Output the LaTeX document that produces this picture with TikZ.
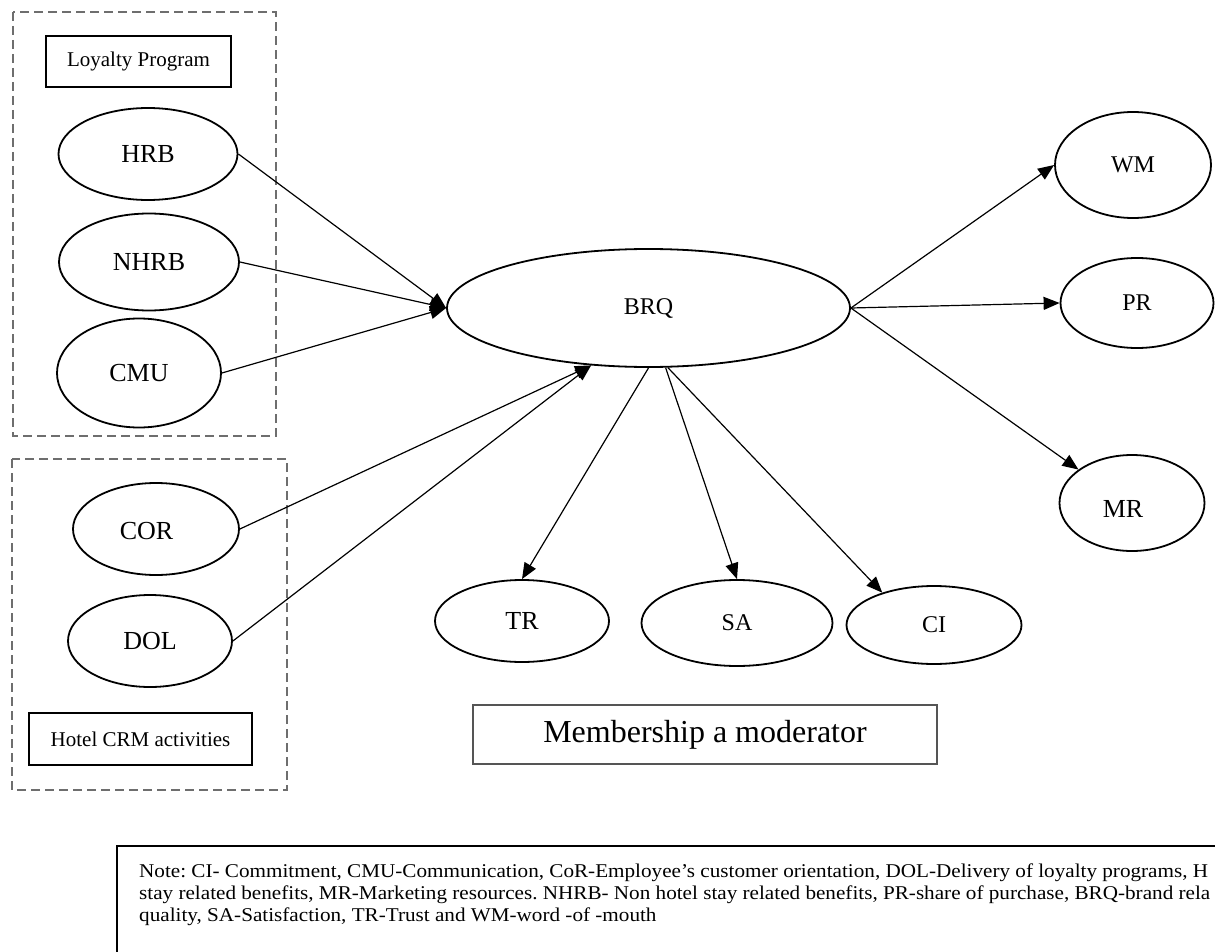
\documentclass[tikz,border=0pt]{standalone}
\usepackage{fontspec}
\setmainfont{Liberation Serif}
\newfontfamily\notefont[FakeStretch=1.085]{Liberation Serif}
\usetikzlibrary{arrows.meta,shapes.geometric}

\definecolor{grpgray}{HTML}{6E6E6E}
\definecolor{membgray}{HTML}{555555}

\begin{document}
\begin{tikzpicture}[x=1pt,y=-1pt,
  oval/.style={ellipse, draw=black, line width=1.8pt, inner sep=0pt},
  big/.style={font=\fontsize{26}{30}\selectfont},
  mid/.style={font=\fontsize{24}{28}\selectfont},
  lbl/.style={inner sep=0pt},
  tag/.style={draw=black, line width=1.3pt, inner sep=0pt, font=\fontsize{21}{25}\selectfont},
  link/.style={line width=1.2pt, -{Triangle[length=16pt,width=13pt]}},
  grp/.style={draw=grpgray, line width=1.8pt, dash pattern=on 9pt off 5pt},
  notetext/.style={anchor=base west, inner sep=0pt, font=\notefont\fontsize{19.5}{22}\selectfont\frenchspacing}]

\useasboundingbox (0,0) rectangle (1215,952);

% group frames
\draw[grp] (13,12) rectangle (276,436);
\draw[grp] (12,459) rectangle (287,790);

% group titles
\node[tag, minimum width=185pt, minimum height=51pt] (lp) at (138.5,61.5) {Loyalty Program};
\node[tag, minimum width=223pt, minimum height=52pt] (crm) at (140.5,739) {Hotel CRM activities};

% antecedents
\node[oval, big, minimum width=179pt, minimum height=92pt]  (hrb)  at (148,154) {HRB};
\node[oval, big, minimum width=180pt, minimum height=97pt]  (nhrb) at (149,262) {NHRB};
\node[oval, big, minimum width=164pt, minimum height=109pt] (cmu)  at (139,373) {CMU};
\node[oval, minimum width=166pt, minimum height=92pt] (cor) at (156,529) {};
\node[lbl, big] (cortext) at (146.5,531) {COR};
\node[oval, big, minimum width=164pt, minimum height=92pt]  (dol)  at (150,641) {DOL};

% central construct
\node[oval, mid, minimum width=403pt, minimum height=118pt] (brq) at (648.5,308) {BRQ};

% relationship quality dimensions
\node[oval, big, minimum width=174pt, minimum height=82pt] (tr) at (522,621) {TR};
\node[oval, mid, minimum width=191pt, minimum height=86pt] (sa) at (737,623) {SA};
\node[oval, mid, minimum width=175pt, minimum height=78pt] (ci) at (934,625) {CI};

% outcomes
\node[oval, mid, minimum width=156pt, minimum height=106pt] (wm) at (1133,165) {WM};
\node[oval, mid, minimum width=153pt, minimum height=90pt] (pr) at (1137,303) {PR};
\node[oval, minimum width=145pt, minimum height=96pt] (mr) at (1132,503) {};
\node[lbl, big] (mrtext) at (1123,508.5) {MR};

% moderator
\node[draw=membgray, line width=2pt, inner sep=0pt, minimum width=464pt, minimum height=59pt,
      font=\fontsize{32}{36}\selectfont] (memb) at (705,734.5) {Membership a moderator};

% paths
\draw[link] (hrb.east) -- (brq.west);
\draw[link] (nhrb.east) -- (brq.west);
\draw[link] (cmu.east) -- (brq.west);
\draw[link] (cor.east) -- (brq.225);
\draw[link] (dol.east) -- (brq.225);
\draw[link] (brq.south) -- (tr.north);
\draw[link] (brq.286) -- (sa.north);
\draw[link] (brq.288) -- (ci.148);
\draw[link] (brq.east) -- (wm.west);
\draw[link] (brq.east) -- (pr.west);
\draw[link] (brq.east) -- (mr.148);

% abbreviations
\begin{scope}
  \clip (0,0) rectangle (1215,952);
  \draw[line width=1.5pt] (117,846) rectangle (1240,990);
  \node[notetext] (note1) at (139,877) {Note: CI- Commitment, CMU-Communication, CoR-Employee’s customer orientation, DOL-Delivery of loyalty programs, H};
  \node[notetext] (note2) at (139,899) {stay related benefits, MR-Marketing resources. NHRB- Non hotel stay related benefits, PR-share of purchase, BRQ-brand rela};
  \node[notetext] (note3) at (139,921) {quality, SA-Satisfaction, TR-Trust and WM-word -of -mouth};
\end{scope}

\end{tikzpicture}
\end{document}
